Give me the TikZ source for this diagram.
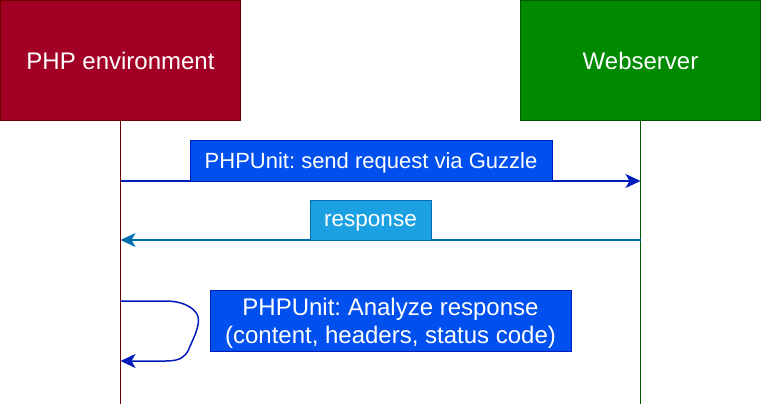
\documentclass[tikz,border=0pt]{standalone}
\usepackage{fontspec}
\setmainfont{Liberation Sans}
\usetikzlibrary{arrows.meta,positioning}
\definecolor{phpfill}{HTML}{A20025}
\definecolor{phpdraw}{HTML}{6F0000}
\definecolor{webfill}{HTML}{008A00}
\definecolor{webdraw}{HTML}{005700}
\definecolor{msgfill}{HTML}{0050EF}
\definecolor{msgdraw}{HTML}{001DBC}
\definecolor{resfill}{HTML}{1BA1E2}
\definecolor{resdraw}{HTML}{006EAF}
\frenchspacing
\tikzset{
actor/.style={draw, line width=1pt, minimum width=240pt, minimum height=120pt, inner sep=0pt, outer sep=0pt, text=white, font=\fontsize{24}{28}\selectfont},
msglabel/.style={draw, line width=1pt, inner sep=0pt, outer sep=0pt, text=white, align=center, text depth=0pt, font=\fontsize{22}{28}\selectfont},
msg/.style={line width=1.5pt, -{Stealth[length=15pt,width=14pt,inset=4pt]}}
}
\begin{document}
\begin{tikzpicture}[x=1pt,y=-1pt]
\useasboundingbox (0,0) rectangle (762,404);
\node[actor, fill=phpfill, draw=phpdraw] (php) at (120.5,60.5) {PHP environment};
\node[actor, fill=webfill, draw=webdraw] (web) at (640.5,60.5) {Webserver};
\coordinate (php end) at (120.5,404);
\coordinate (web end) at (640.5,404);
\draw[phpdraw, line width=1pt] (php) -- (php end);
\draw[webdraw, line width=1pt] (web) -- (web end);
\coordinate (req php) at (120.5,181);
\coordinate (req web) at (640.5,181);
\coordinate (res web) at (640.5,240);
\coordinate (res php) at (120.5,240);
\coordinate (loop a) at (120.5,301);
\coordinate (loop b) at (120.5,361);
\draw[msg, msgdraw] (req php) -- (req web);
\draw[msg, resdraw] (res web) -- (res php);
\draw[msg, msgdraw] (loop a) -- ++(45,0) .. controls +(20,0) and +(0,-10) .. ++(33,19) .. controls +(0,10) and +(3,-8) .. ++(-10,30) .. controls +(-4,7) and +(15,0) .. ++(-23,11) -- (loop b);
\node[msglabel, fill=msgfill, draw=msgdraw, minimum width=362pt, minimum height=41pt] (req) at (371,160.5) {PHPUnit: send request via Guzzle};
\node[msglabel, fill=resfill, draw=resdraw, minimum width=121pt, minimum height=40pt, font=\fontsize{22.5}{28}\selectfont] (res) at (370.5,220) {response};
\node[msglabel, fill=msgfill, draw=msgdraw, minimum width=361pt, minimum height=61pt, font=\fontsize{24}{28}\selectfont] (check) at (390.5,320.5) {PHPUnit: Analyze response\\(content, headers, status code)};
\end{tikzpicture}
\end{document}
